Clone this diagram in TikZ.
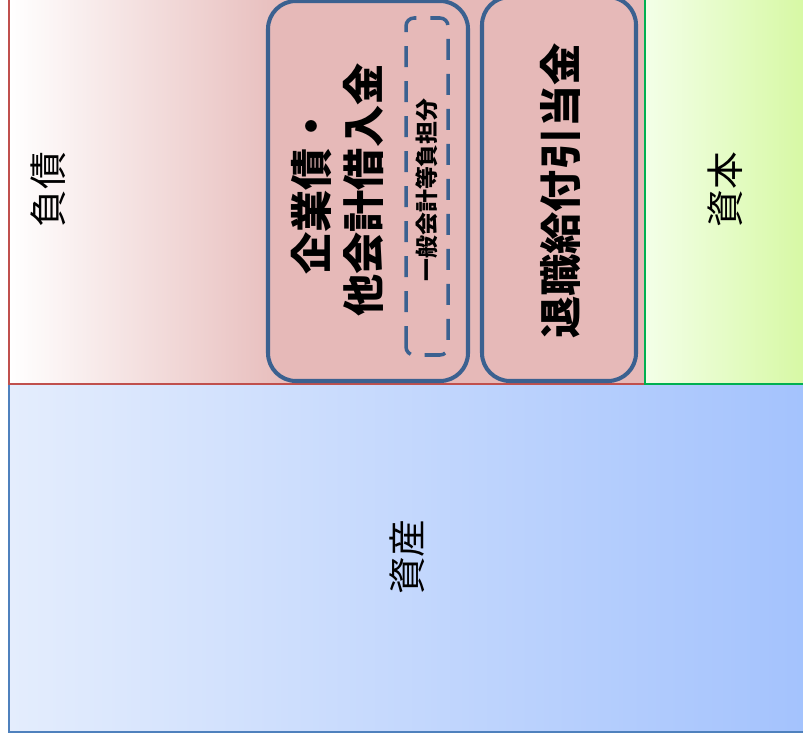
\documentclass[tikz,border=0pt]{standalone}
\usepackage{fontspec}
\newfontfamily\jp{Noto Sans CJK JP}
\IfFontExistsTF{Noto Sans CJK JP Black}{\newfontfamily\jpheavy{Noto Sans CJK JP Black}}{\newcommand\jpheavy{\jp\bfseries}}
\usetikzlibrary{positioning}
\definecolor{liabpink}{HTML}{E6B9B8}
\definecolor{liabred}{HTML}{C0504D}
\definecolor{boxblue}{HTML}{3B6190}
\definecolor{assetlight}{HTML}{E4EDFD}
\definecolor{assetdark}{HTML}{A3C2FD}
\definecolor{assetline}{HTML}{4F81BD}
\definecolor{caplight}{HTML}{F3FFE8}
\definecolor{capdark}{HTML}{D5F8A0}
\definecolor{capline}{HTML}{00B050}
\pgfdeclarehorizontalshading{liabshade}{100bp}{color(0bp)=(white); color(25bp)=(white); color(48bp)=(liabpink); color(100bp)=(liabpink)}

\begin{document}
\begin{tikzpicture}[x=0.02cm,y=0.02cm,
    sidelabel/.style={rotate=90,font=\jp\fontsize{21.5}{25}\selectfont},
    boldlabel/.style={rotate=90,align=center,font=\jpheavy\fontsize{24}{29.6}\selectfont},
    debtbox/.style={draw=boxblue,line width=2.3pt,rounded corners=0.56cm,fill=liabpink}]
    \useasboundingbox (0,0) rectangle (803,741);
    \begin{scope}
        \clip (0,0) rectangle (803,741);
        % balance sheet areas
        \shade[left color=assetlight,right color=assetdark,draw=assetline,line width=1.1pt] (9,9) rectangle (815,357);
        \shade[shading=liabshade,draw=liabred,line width=1.1pt] (9,357) rectangle (645,750);
        \shade[left color=caplight,right color=capdark,draw=capline,line width=1.1pt] (645,357) rectangle (815,750);
        % liability boxes
        \draw[debtbox] (268,360) rectangle (468,740);
        \draw[debtbox] (482,360) rectangle (636,744);
        \draw[draw=boxblue,line width=2pt,rounded corners=0.16cm,dash pattern=on 0.42cm off 0.28cm] (406,386) rectangle (448,723);
    \end{scope}
    % labels
    \node[sidelabel] (debt) at (48,551) {負債};
    \node[sidelabel] (capital) at (725,551) {資本};
    \node[sidelabel] (asset) at (407,184) {資産};
    \node[boldlabel] (bonds) at (337,551) {企業債・\\他会計借入金};
    \node[rotate=90,font=\jpheavy\fontsize{13}{16}\selectfont] (share) at (427,551) {一般会計等負担分};
    \node[boldlabel] (retire) at (560,550) {退職給付引当金};
\end{tikzpicture}
\end{document}
